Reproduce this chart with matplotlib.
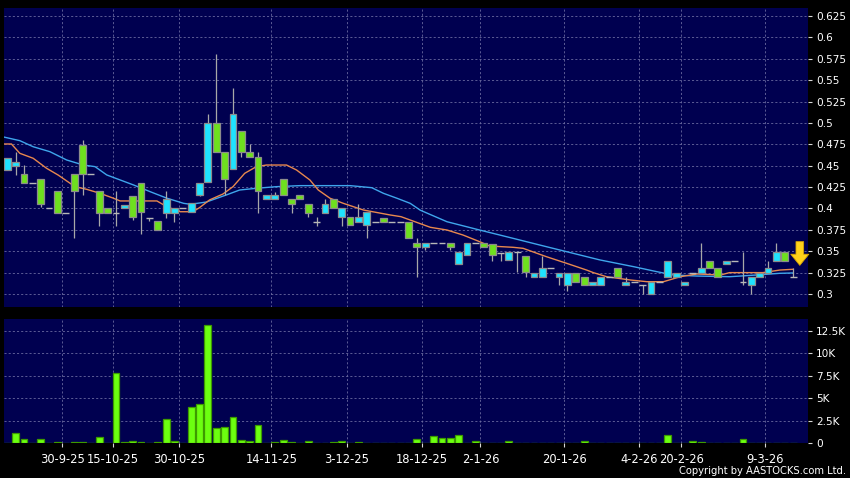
import matplotlib
matplotlib.use("Agg")
import matplotlib.pyplot as plt
import numpy as np

# ---------------- data ----------------
opens = [0.4455, 0.4502, 0.440, 0.430, 0.435, 0.400, 0.420, 0.395, 0.440, 0.4747,
         0.440, 0.420, 0.400, 0.395, 0.400, 0.415, 0.430, 0.389, 0.385, 0.395,
         0.395, 0.400, 0.3955, 0.4158, 0.4306, 0.500, 0.466, 0.446, 0.490, 0.4657,
         0.460, 0.411, 0.411, 0.435, 0.411, 0.4158, 0.405, 0.3845, 0.395, 0.4107,
         0.390, 0.390, 0.3845, 0.381, 0.3845, 0.389, 0.3845, 0.3845, 0.3845, 0.360,
         0.3546, 0.360, 0.360, 0.360, 0.335, 0.3456, 0.360, 0.360, 0.358, 0.3485,
         0.340, 0.3495, 0.3444, 0.3195, 0.3195, 0.330, 0.3195, 0.3105, 0.325, 0.3195,
         0.3105, 0.3105, 0.3195, 0.330, 0.3105, 0.3144, 0.3105, 0.300, 0.3144, 0.3195,
         0.3195, 0.3105, 0.325, 0.325, 0.339, 0.330, 0.335, 0.339, 0.3144, 0.3105,
         0.3195, 0.325, 0.339, 0.3495, 0.3195]
closes = [0.4595, 0.4548, 0.430, 0.430, 0.405, 0.400, 0.395, 0.395, 0.4206, 0.440,
          0.440, 0.395, 0.395, 0.395, 0.4045, 0.390, 0.3953, 0.389, 0.375, 0.4105,
          0.400, 0.400, 0.406, 0.430, 0.500, 0.466, 0.435, 0.5105, 0.466, 0.460,
          0.420, 0.416, 0.416, 0.416, 0.405, 0.4107, 0.395, 0.3845, 0.405, 0.4002,
          0.400, 0.381, 0.390, 0.3955, 0.3845, 0.3845, 0.3845, 0.3845, 0.365, 0.3546,
          0.360, 0.360, 0.360, 0.355, 0.3495, 0.360, 0.360, 0.355, 0.3456, 0.3485,
          0.3495, 0.3495, 0.326, 0.325, 0.330, 0.330, 0.325, 0.325, 0.3144, 0.3105,
          0.3144, 0.3195, 0.3195, 0.3195, 0.3144, 0.3144, 0.3105, 0.3144, 0.3144, 0.339,
          0.325, 0.3144, 0.325, 0.330, 0.330, 0.3195, 0.339, 0.339, 0.3144, 0.3195,
          0.325, 0.330, 0.3495, 0.339, 0.3195]
highs = [0.4595, 0.466, 0.4506, 0.430, 0.435, 0.400, 0.420, 0.395, 0.440, 0.4805,
         0.440, 0.420, 0.400, 0.4205, 0.4045, 0.415, 0.430, 0.389, 0.385, 0.420,
         0.400, 0.400, 0.406, 0.430, 0.5105, 0.5806, 0.466, 0.5405, 0.490, 0.4754,
         0.466, 0.416, 0.419, 0.435, 0.411, 0.4158, 0.405, 0.390, 0.411, 0.4107,
         0.400, 0.390, 0.405, 0.3955, 0.3845, 0.389, 0.3845, 0.3845, 0.3845, 0.365,
         0.360, 0.360, 0.360, 0.360, 0.3495, 0.360, 0.360, 0.360, 0.358, 0.3485,
         0.3495, 0.3495, 0.3444, 0.325, 0.3444, 0.330, 0.325, 0.325, 0.325, 0.3195,
         0.3144, 0.3195, 0.3195, 0.330, 0.3195, 0.3144, 0.3105, 0.3144, 0.3144, 0.339,
         0.325, 0.3144, 0.325, 0.360, 0.339, 0.330, 0.339, 0.339, 0.3495, 0.3195,
         0.325, 0.339, 0.360, 0.3495, 0.330]
lows = [0.4455, 0.439, 0.430, 0.430, 0.402, 0.400, 0.395, 0.395, 0.365, 0.4155,
        0.440, 0.379, 0.395, 0.379, 0.400, 0.387, 0.370, 0.385, 0.375, 0.389,
        0.3846, 0.400, 0.3955, 0.415, 0.4306, 0.466, 0.4158, 0.446, 0.4604, 0.460,
        0.395, 0.411, 0.411, 0.416, 0.395, 0.4107, 0.390, 0.380, 0.395, 0.4002,
        0.380, 0.381, 0.3845, 0.365, 0.3845, 0.3845, 0.3845, 0.3845, 0.365, 0.3195,
        0.351, 0.360, 0.360, 0.351, 0.335, 0.3456, 0.360, 0.355, 0.339, 0.339,
        0.340, 0.326, 0.3195, 0.3195, 0.3195, 0.330, 0.3105, 0.304, 0.3144, 0.3105,
        0.3105, 0.3105, 0.3195, 0.3195, 0.3105, 0.3144, 0.300, 0.300, 0.3144, 0.3195,
        0.3195, 0.3105, 0.325, 0.325, 0.330, 0.3195, 0.335, 0.339, 0.3105, 0.300,
        0.3195, 0.325, 0.339, 0.339, 0.3195]
volumes = [0, 1110, 480, 0, 480, 70, 100, 0, 150, 100,
           0, 700, 0, 7840, 170, 200, 110, 30, 150, 2700,
           200, 0, 4070, 4370, 13150, 1740, 1850, 2890, 370, 260,
           2000, 0, 150, 370, 100, 0, 260, 30, 30, 100,
           300, 80, 150, 30, 0, 0, 0, 0, 20, 450,
           0, 810, 540, 540, 960, 30, 300, 30, 0, 40,
           300, 40, 40, 0, 0, 60, 0, 40, 40, 260,
           30, 0, 0, 0, 0, 0, 0, 0, 0, 890,
           0, 0, 260, 150, 0, 40, 0, 40, 450, 0,
           30, 0, 30, 0, 30]

# moving averages: (candle index, value)
ma_short_idx = [-0.4, 0.5, 1.5, 3.1, 4.7, 6.1, 8.1, 9.5, 11.1, 12.7, 13.5, 17.9, 19.1, 20.7,
                22.2, 23.0, 24.2, 25.8, 27.0, 28.4, 29.8, 31.0, 33.4, 34.6, 36.2, 37.2,
                38.6, 40.2, 42.6, 45.8, 47.1, 48.2, 50.6, 52.6, 54.5, 56.5, 57.7, 60.5,
                61.7, 64.5, 66.9, 69.3, 70.1, 71.7, 74.5, 76.5, 78.5, 80.5, 82.5, 85.3,
                86.4, 90.4, 92.4, 94.0]
ma_short_val = [0.4754, 0.4754, 0.4645, 0.4587, 0.447, 0.439, 0.4255, 0.4224, 0.4177, 0.412,
                0.4088, 0.4088, 0.402, 0.3962, 0.3962, 0.401, 0.41, 0.4169, 0.4255, 0.4411,
                0.4489, 0.4508, 0.4508, 0.445, 0.4333, 0.4216, 0.412, 0.406, 0.3982, 0.3924,
                0.3904, 0.3865, 0.378, 0.3748, 0.369, 0.3612, 0.3561, 0.3546, 0.3534, 0.3436,
                0.3359, 0.328, 0.325, 0.3202, 0.3164, 0.3144, 0.3144, 0.3202, 0.3234, 0.3222,
                0.325, 0.325, 0.328, 0.3289]
ma_long_idx = [-0.4, 1.5, 3.1, 5.1, 7.1, 9.1, 10.5, 11.9, 15.1, 17.1, 19.1, 21.1, 21.9, 23.8,
               26.2, 27.8, 29.8, 32.2, 35.0, 41.0, 43.6, 45.0, 46.6, 48.2, 49.4, 52.6,
               56.5, 60.5, 64.5, 66.9, 68.5, 70.9, 74.9, 77.7, 79.7, 82.5, 86.4, 89.6,
               92.4, 94.0]
ma_long_val = [0.4835, 0.4793, 0.4722, 0.4664, 0.4567, 0.4508, 0.4489, 0.4392, 0.4275, 0.4196,
               0.412, 0.406, 0.4049, 0.4075, 0.4158, 0.4216, 0.4236, 0.4255, 0.4267, 0.4267,
               0.4243, 0.4177, 0.412, 0.406, 0.398, 0.3845, 0.3748, 0.3651, 0.3553, 0.3495,
               0.3456, 0.3398, 0.332, 0.3261, 0.3222, 0.321, 0.3202, 0.3222, 0.3242, 0.3246]

date_labels = ["30-9-25", "15-10-25", "30-10-25", "14-11-25", "3-12-25", "18-12-25",
               "2-1-26", "20-1-26", "4-2-26", "20-2-26", "9-3-26"]
date_label_idx = [6, 12, 20, 31, 40, 49, 56, 66, 75, 80, 90]

price_ticks = [0.3, 0.325, 0.35, 0.375, 0.4, 0.425, 0.45, 0.475, 0.5, 0.525, 0.55, 0.575, 0.6, 0.625]
vol_ticks = [0, 2500, 5000, 7500, 10000, 12500]
vol_tick_labels = ["0", "2.5K", "5K", "7.5K", "10K", "12.5K"]

# ---------------- styling ----------------
BG = "#000050"
UP = "#1fe3ff"
DOWN = "#6ee01e"
EDGE = "#8c8c8c"
WICK = "#a8a8a8"
GRID = "#6a6aa0"
VOL = "#6cff10"
VOL_EDGE = "#3d9a00"

W, H = 850, 478
fig = plt.figure(figsize=(W / 100, H / 100), dpi=100, facecolor="black")
ax1 = fig.add_axes([4 / W, 1 - 307 / H, 804 / W, 299 / H], facecolor=BG)
ax2 = fig.add_axes([4 / W, 1 - 443.3 / H, 804 / W, 124.3 / H], facecolor=BG)

n = len(opens)
idx = np.arange(n)
o = np.array(opens); c = np.array(closes); h = np.array(highs); l = np.array(lows)
vol = np.array(volumes)

xmin, xmax = -0.39, 95.78
tick_pos = np.array(date_label_idx) + 0.6

for ax in (ax1, ax2):
    ax.set_xlim(xmin, xmax)
    for s in ax.spines.values():
        s.set_visible(False)
    ax.set_xticks(tick_pos)
    ax.grid(True, linestyle=(0, (2.5, 2.5)), color=GRID, linewidth=0.6, zorder=0)
    ax.set_axisbelow(True)
    ax.yaxis.tick_right()
    ax.tick_params(axis="y", colors="#d8d8d8", labelcolor="white", length=3,
                   width=0.8, pad=3, labelsize=7.6, direction="out")

# price panel
ax1.set_ylim(0.2848, 0.6344)
ax1.set_yticks(price_ticks)
ax1.set_yticklabels(["%g" % t for t in price_ticks])
ax1.tick_params(axis="x", length=0, labelbottom=False)

ax1.plot(ma_long_idx, ma_long_val, color="#3fa6ec", lw=1.0, zorder=2)
ax1.plot(ma_short_idx, ma_short_val, color="#e8884e", lw=1.0, zorder=2)

bw = 0.82
ax1.vlines(idx, l, h, color=WICK, lw=0.9, zorder=3)
up = c > o
down = c < o
flat = c == o
ax1.bar(idx[up], (c - o)[up], bottom=o[up], width=bw, color=UP, edgecolor=EDGE,
        linewidth=0.9, zorder=4)
ax1.bar(idx[down], (o - c)[down], bottom=c[down], width=bw, color=DOWN, edgecolor=EDGE,
        linewidth=0.9, zorder=4)
ax1.hlines(c[flat], idx[flat] - bw / 2, idx[flat] + bw / 2, color="#b8b8b8", lw=1.0, zorder=4)

# yellow arrow marker at the latest bar
ax1.annotate("", xy=(n - 0.2, 0.3335), xytext=(n - 0.2, 0.3612),
             arrowprops=dict(facecolor="#ffd21a", edgecolor="#d9a400", width=5.5,
                             headwidth=13, headlength=8, lw=0.6), zorder=6)

# volume panel
ax2.set_ylim(0, 13800)
ax2.set_yticks(vol_ticks)
ax2.set_yticklabels(vol_tick_labels)
ax2.bar(idx, vol, width=0.82, color=VOL, edgecolor=VOL_EDGE, linewidth=0.9, zorder=3)
ax2.set_xticklabels(date_labels)
ax2.tick_params(axis="x", colors="#d8d8d8", labelcolor="white", length=3, width=0.8,
                pad=4, labelsize=8.3)

fig.text(0.995, 0.014, "Copyright by AASTOCKS.com Ltd.", ha="right", va="center",
         color="white", fontsize=7.2)

fig.savefig("out.png", dpi=100, facecolor="black")
